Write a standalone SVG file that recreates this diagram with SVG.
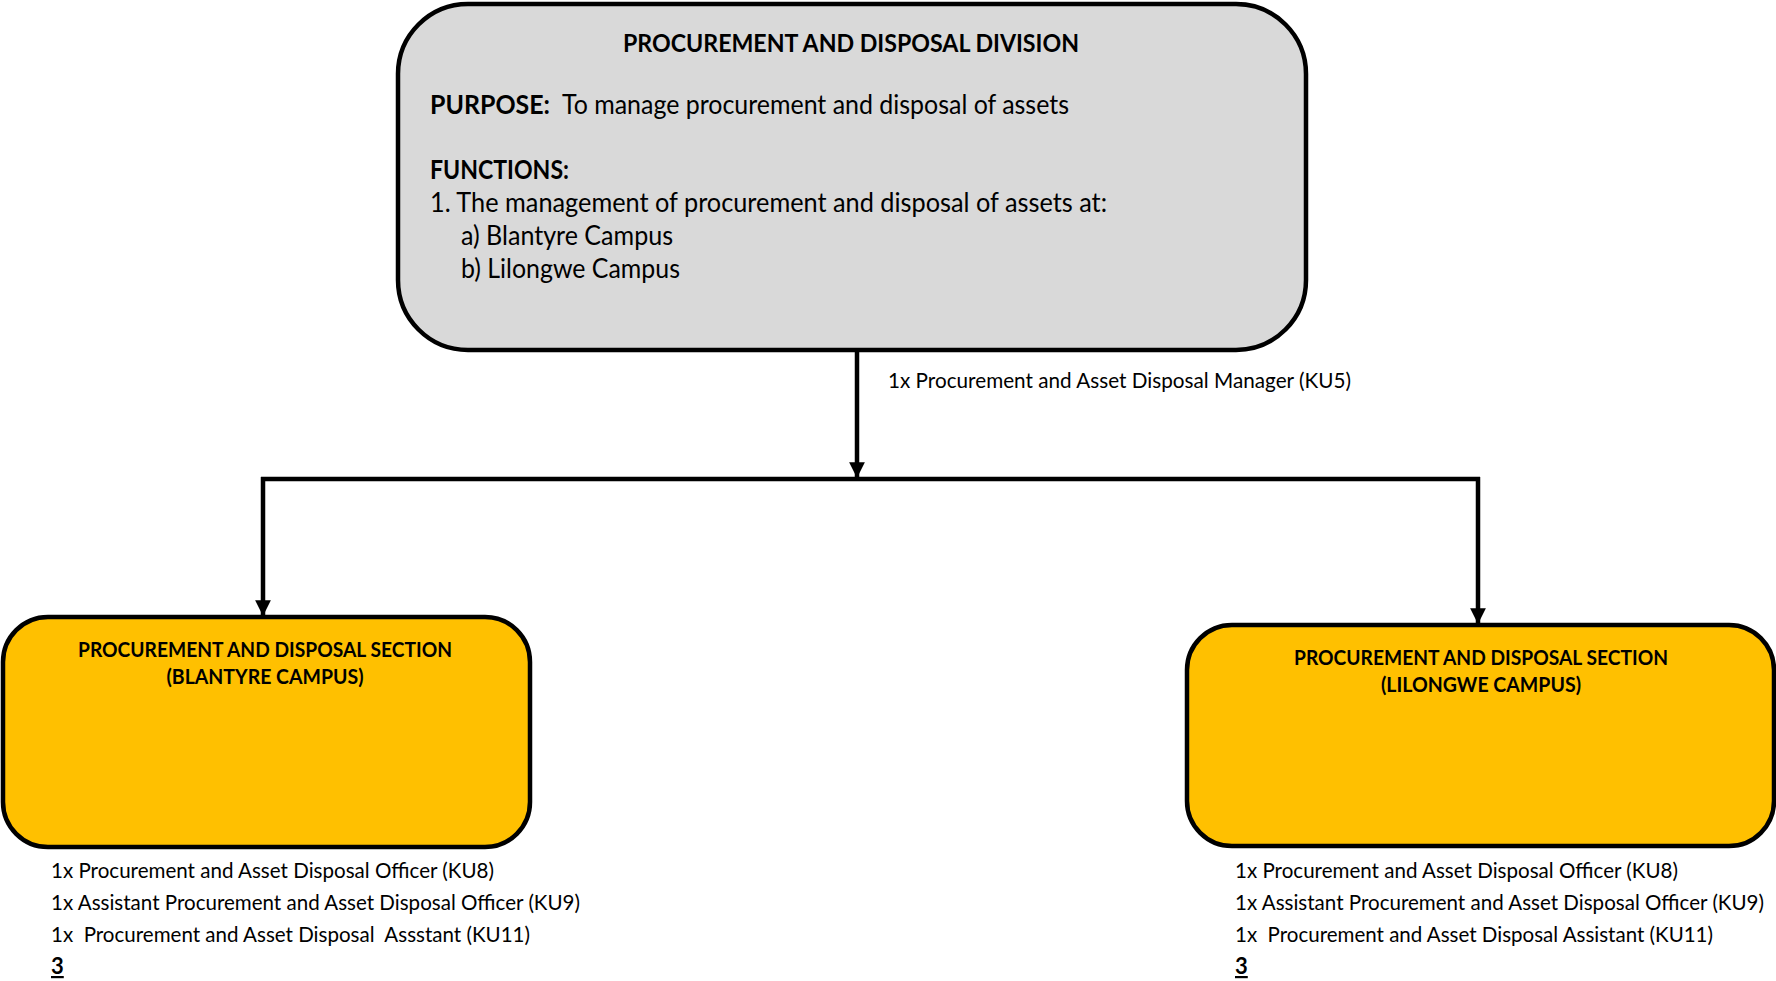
<svg xmlns="http://www.w3.org/2000/svg" width="1776" height="981" viewBox="0 0 1776 981">
<style>
.t{font-family:Lato,"Open Sans","Liberation Sans",sans-serif;fill:#000}
.b{font-weight:bold}
.box{stroke:#000;stroke-width:4.5}
.ln{stroke:#000;stroke-width:4.5;fill:none}
</style>
<defs>
<marker id="ah" viewBox="0 0 10 10" refX="10" refY="5" markerWidth="3.5" markerHeight="3.5" orient="auto" markerUnits="strokeWidth">
<path d="M0,0 L10,5 L0,10 Z" fill="#000"/>
</marker>
</defs>
<rect width="1776" height="981" fill="#fff"/>
<g id="connectors">
<line class="ln" x1="857" y1="350" x2="857" y2="478" marker-end="url(#ah)"/>
<line class="ln" x1="261" y1="479" x2="1480" y2="479"/>
<line class="ln" x1="263" y1="477" x2="263" y2="616" marker-end="url(#ah)"/>
<line class="ln" x1="1478" y1="477" x2="1478" y2="624" marker-end="url(#ah)"/>
<text class="t" x="888" y="388" font-size="22" textLength="463" lengthAdjust="spacingAndGlyphs">1x Procurement and Asset Disposal Manager (KU5)</text>
</g>
<g id="division">
<rect class="box" x="398" y="4" width="908" height="346" rx="70" ry="70" fill="#d9d9d9"/>
<text class="t b" x="851" y="52" font-size="25" text-anchor="middle" textLength="456" lengthAdjust="spacingAndGlyphs">PROCUREMENT AND DISPOSAL DIVISION</text>
<text class="t" x="430" y="114" font-size="26" textLength="639" lengthAdjust="spacingAndGlyphs" xml:space="preserve"><tspan class="b">PURPOSE:</tspan>  To manage procurement and disposal of assets</text>
<text class="t b" x="430" y="179" font-size="26" textLength="139" lengthAdjust="spacingAndGlyphs">FUNCTIONS:</text>
<text class="t" x="430" y="212" font-size="26" textLength="677" lengthAdjust="spacingAndGlyphs">1. The management of procurement and disposal of assets at:</text>
<text class="t" x="461" y="245" font-size="26" textLength="212" lengthAdjust="spacingAndGlyphs">a) Blantyre Campus</text>
<text class="t" x="461" y="278" font-size="26" textLength="219" lengthAdjust="spacingAndGlyphs">b) Lilongwe Campus</text>
</g>
<g id="blantyre">
<rect class="box" x="3" y="617" width="527" height="230" rx="45" ry="45" fill="#ffc000"/>
<text class="t b" x="265" y="657" font-size="21" text-anchor="middle" textLength="374" lengthAdjust="spacingAndGlyphs">PROCUREMENT AND DISPOSAL SECTION</text>
<text class="t b" x="265" y="684" font-size="21" text-anchor="middle" textLength="197" lengthAdjust="spacingAndGlyphs">(BLANTYRE CAMPUS)</text>
<text class="t" x="51" y="878" font-size="22" textLength="443" lengthAdjust="spacingAndGlyphs">1x Procurement and Asset Disposal Officer (KU8)</text>
<text class="t" x="51" y="910" font-size="22" textLength="529" lengthAdjust="spacingAndGlyphs">1x Assistant Procurement and Asset Disposal Officer (KU9)</text>
<text class="t" x="51" y="942" font-size="22" textLength="479" lengthAdjust="spacingAndGlyphs" xml:space="preserve">1x  Procurement and Asset Disposal  Assstant (KU11)</text>
<text class="t b" x="51" y="974" font-size="22" text-decoration="underline">3</text>
</g>
<g id="lilongwe">
<rect class="box" x="1187" y="625" width="587" height="221" rx="45" ry="45" fill="#ffc000"/>
<text class="t b" x="1481" y="665" font-size="21" text-anchor="middle" textLength="374" lengthAdjust="spacingAndGlyphs">PROCUREMENT AND DISPOSAL SECTION</text>
<text class="t b" x="1481" y="692" font-size="21" text-anchor="middle" textLength="200" lengthAdjust="spacingAndGlyphs">(LILONGWE CAMPUS)</text>
<text class="t" x="1235" y="878" font-size="22" textLength="443" lengthAdjust="spacingAndGlyphs">1x Procurement and Asset Disposal Officer (KU8)</text>
<text class="t" x="1235" y="910" font-size="22" textLength="529" lengthAdjust="spacingAndGlyphs">1x Assistant Procurement and Asset Disposal Officer (KU9)</text>
<text class="t" x="1235" y="942" font-size="22" textLength="478" lengthAdjust="spacingAndGlyphs" xml:space="preserve">1x  Procurement and Asset Disposal Assistant (KU11)</text>
<text class="t b" x="1235" y="974" font-size="22" text-decoration="underline">3</text>
</g>
</svg>
